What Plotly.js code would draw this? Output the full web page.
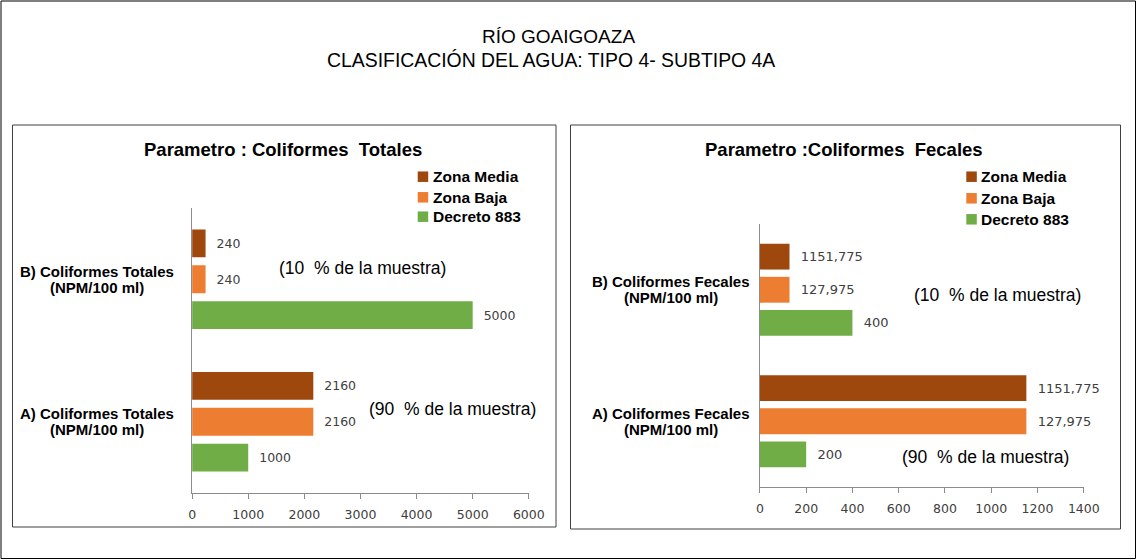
<!DOCTYPE html>
<html>
<head>
<meta charset="utf-8">
<script src="https://cdn.plot.ly/plotly-3.0.1.min.js"></script>
<style>
  html, body { margin: 0; padding: 0; background: #ffffff; }
  #chart { width: 1137px; height: 560px; }
</style>
</head>
<body>
<div id="chart"></div>
<script>
// ---- data ----
const mainTitle1 = "RÍO GOAIGOAZA";
const mainTitle2 = "CLASIFICACIÓN DEL AGUA: TIPO 4- SUBTIPO 4A";
const subTitleTot = "Parametro : Coliformes  Totales";
const subTitleFec = "Parametro :Coliformes  Fecales";

const seriesNames = ["Zona Media", "Zona Baja", "Decreto 883"];
const seriesColors = ["#9E480E", "#ED7D31", "#70AD47"];

const catTotales = ["A) Coliformes Totales", "B) Coliformes Totales"];
const catFecales = ["A) Coliformes Fecales", "B) Coliformes Fecales"];
const unitLabel = "(NPM/100 ml)";

const totMedia = [2160, 240];
const totBaja = [2160, 240];
const totDecreto = [1000, 5000];

const fecMedia = [1151.775, 127.975];
const fecBaja = [1151.775, 127.975];
const fecDecreto = [200, 400];
const fecMediaLabels = ["1151,775", "1151,775"];
const fecBajaLabels = ["127,975", "127,975"];
const fecDecretoLabels = ["200", "400"];

const totTicks = [0, 1000, 2000, 3000, 4000, 5000, 6000];
const fecTicks = [0, 200, 400, 600, 800, 1000, 1200, 1400];

const muestraTot = ["(90  % de la muestra)", "(10  % de la muestra)"];
const muestraFec = ["(90  % de la muestra)", "(10  % de la muestra)"];

// ---- helpers ----
const W = 1137, H = 560;
const px = v => v / W;
const py = v => 1 - v / H;
const FONT = "Liberation Sans, Arial, sans-serif";

function barTrace(name, color, cats, vals, labels, xa, ya, size) {
  return {
    type: "bar", orientation: "h", name: name,
    y: cats, x: vals, text: labels,
    texttemplate: "  %{text}", textposition: "outside", cliponaxis: false,
    textfont: { family: "DejaVu Sans", size: size, color: "#404040" },
    marker: { color: color },
    xaxis: xa, yaxis: ya, showlegend: false, hoverinfo: "x+y"
  };
}

// traces added bottom-to-top inside each group (Decreto, Baja, Media)
const data = [
  barTrace(seriesNames[2], seriesColors[2], catTotales, totDecreto, totDecreto.map(String), "x", "y", 12.5),
  barTrace(seriesNames[1], seriesColors[1], catTotales, totBaja, totBaja.map(String), "x", "y", 12.5),
  barTrace(seriesNames[0], seriesColors[0], catTotales, totMedia, totMedia.map(String), "x", "y", 12.5),
  barTrace(seriesNames[2], seriesColors[2], catFecales, fecDecreto, fecDecretoLabels, "x2", "y2", 13),
  barTrace(seriesNames[1], seriesColors[1], catFecales, fecBaja, fecBajaLabels, "x2", "y2", 13),
  barTrace(seriesNames[0], seriesColors[0], catFecales, fecMedia, fecMediaLabels, "x2", "y2", 13)
];

const tickFont = { family: "DejaVu Sans", size: 12.5, color: "#404040" };

function xAxis(domain, ticks, anchor) {
  return {
    domain: domain, anchor: anchor,
    range: [ticks[0], ticks[ticks.length - 1]],
    tickmode: "array", tickvals: ticks, ticktext: ticks.map(String),
    showgrid: false, zeroline: false,
    showline: true, linecolor: "#8c8c8c", linewidth: 1,
    ticks: "outside", ticklen: 5, tickcolor: "#8c8c8c",
    tickfont: tickFont, ticklabelstandoff: 5, fixedrange: true
  };
}
function yAxis(domain, anchor) {
  return {
    domain: domain, anchor: anchor, type: "category",
    range: [-0.5, 1.5],
    showticklabels: false, showgrid: false, zeroline: false,
    showline: true, linecolor: "#8c8c8c", linewidth: 1, ticks: "", fixedrange: true
  };
}

const annotations = [];
function addText(text, x, y, size, bold, xanchor) {
  annotations.push({
    text: bold ? "<b>" + text + "</b>" : text,
    xref: "paper", yref: "paper", x: x, y: y,
    xanchor: xanchor || "center", yanchor: "middle", showarrow: false,
    font: { family: FONT, size: size, color: "#000000" }
  });
}
addText(mainTitle1, px(558), py(36), 19, false);
addText(mainTitle2, px(551), py(60), 19.4, false);
addText(subTitleTot, px(283), py(150), 18.5, true);
addText(subTitleFec, px(844), py(150), 18.5, true);

// category labels (two lines each) on the category positions
function catLabels(cats, xPos, yref) {
  cats.forEach(c => {
    const base = { xref: "paper", yref: yref, x: xPos, y: c, xanchor: "center", yanchor: "middle",
      showarrow: false, font: { family: FONT, size: 15, color: "#000000" } };
    annotations.push(Object.assign({}, base, { text: "<b>" + c + "</b>", yshift: 8 }));
    annotations.push(Object.assign({}, base, { text: "<b>" + unitLabel + "</b>", yshift: -8 }));
  });
}
catLabels(catTotales, px(96.5), "y");
catLabels(catFecales, px(671), "y2");

addText(muestraTot[1], px(362), py(268), 17.5, false);
addText(muestraTot[0], px(452.6), py(409), 17.5, false);
addText(muestraFec[1], px(997), py(295), 17.5, false);
addText(muestraFec[0], px(985), py(456.7), 17.5, false);

const shapes = [
  { type: "rect", xref: "paper", yref: "paper", x0: px(1), x1: px(1135.5), y0: py(558.5), y1: py(1), line: { color: "#000000", width: 1 } },
  { type: "rect", xref: "paper", yref: "paper", x0: px(12.5), x1: px(556), y0: py(527), y1: py(125), line: { color: "#404040", width: 1 } },
  { type: "rect", xref: "paper", yref: "paper", x0: px(570.5), x1: px(1120.5), y0: py(529), y1: py(125), line: { color: "#404040", width: 1 } }
];

// legends (one per panel), built from the series arrays
function addLegend(swatchLeft, rowsY) {
  seriesNames.forEach((name, i) => {
    const cy = rowsY[i];
    shapes.push({ type: "rect", xref: "paper", yref: "paper",
      x0: px(swatchLeft), x1: px(swatchLeft + 10.5), y0: py(cy + 5.25), y1: py(cy - 5.25),
      fillcolor: seriesColors[i], line: { width: 0 } });
    addText(name, px(swatchLeft + 13), py(cy), 15.5, true, "left");
  });
}
addLegend(417.7, [176.7, 197.3, 216.7]);
addLegend(966.3, [176.7, 198.3, 219.3]);

const layout = {
  width: W, height: H,
  margin: { l: 0, r: 0, t: 0, b: 0 },
  paper_bgcolor: "#ffffff", plot_bgcolor: "rgba(0,0,0,0)",
  barmode: "group", bargap: 0.245, bargroupgap: 0.22,
  xaxis: xAxis([px(192.1), px(528.8)], totTicks, "y"),
  yaxis: yAxis([py(493), py(208)], "x"),
  xaxis2: xAxis([px(759.9), px(1083.8)], fecTicks, "y2"),
  yaxis2: yAxis([py(487), py(224)], "x2"),
  annotations: annotations,
  shapes: shapes,
  showlegend: false
};

Plotly.newPlot("chart", data, layout, { displayModeBar: false, staticPlot: true });
</script>
</body>
</html>
